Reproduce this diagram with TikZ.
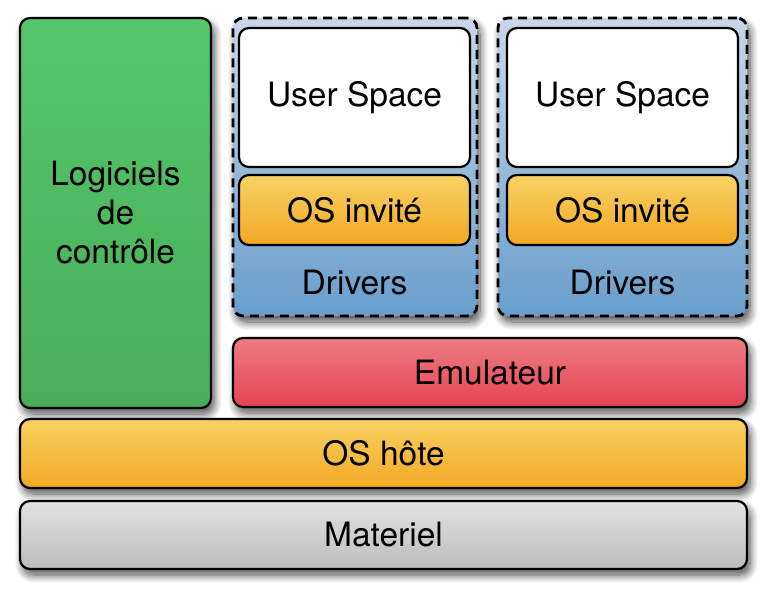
\documentclass[tikz,border=0pt]{standalone}
\usepackage{fontspec}
\setmainfont{TeX Gyre Heros}
\usetikzlibrary{shadows.blur}

\definecolor{logtop}{RGB}{86,198,106}
\definecolor{logbot}{RGB}{72,174,88}
\definecolor{emutop}{RGB}{236,124,128}
\definecolor{emubot}{RGB}{232,66,86}
\definecolor{ostop}{RGB}{246,210,98}
\definecolor{osbot}{RGB}{244,168,36}
\definecolor{mattop}{RGB}{226,226,226}
\definecolor{matbot}{RGB}{188,188,188}
\definecolor{vmtop}{RGB}{200,214,232}
\definecolor{vmbot}{RGB}{104,158,204}

\begin{document}
\begin{tikzpicture}[x=1pt,y=1pt,every node/.style={font=\fontsize{33.5}{39}\selectfont,align=center,inner sep=0pt}]
    \tikzstyle layer=[draw=black,line width=2.2pt,rounded corners=10pt,
        blur shadow={shadow xshift=3pt,shadow yshift=-6pt,shadow blur radius=8pt,shadow blur steps=10,shadow opacity=70}]
    \tikzstyle vm=[layer,dash pattern=on 9pt off 6pt,line width=2.8pt,top color=vmtop,bottom color=vmbot]
    \tikzstyle inner=[draw=black,line width=2.2pt,rounded corners=10pt]

    \useasboundingbox (0,0) rectangle (768,-600);

    % left column
    \node[layer,minimum width=191,minimum height=390,top color=logtop,bottom color=logbot]
        (logiciels) at (115.5,-213) {Logiciels\\de\\contrôle};

    % guest machines
    \node[vm,minimum width=244,minimum height=298] (vmA) at (355,-167) {};
    \node[vm,minimum width=249,minimum height=298] (vmB) at (622.5,-167) {};
    \foreach \name/\cx in {A/354.5,B/622.5}{
        \node[inner,fill=white,minimum width=231,minimum height=139] (user\name) at (\cx,-97.5) {User Space};
        \node[inner,top color=ostop,bottom color=osbot,minimum width=231,minimum height=70] (guest\name) at (\cx,-210) {OS invité};
        \node (drivers\name) at (\cx,-283) {Drivers};
    }

    % lower layers
    \node[layer,minimum width=514,minimum height=69,top color=emutop,bottom color=emubot]
        (emulateur) at (490,-372.5) {Emulateur};
    \node[layer,minimum width=727,minimum height=69,top color=ostop,bottom color=osbot]
        (hote) at (383.5,-453.5) {OS hôte};
    \node[layer,minimum width=727,minimum height=68,top color=mattop,bottom color=matbot]
        (materiel) at (383.5,-535) {Materiel};
\end{tikzpicture}
\end{document}
